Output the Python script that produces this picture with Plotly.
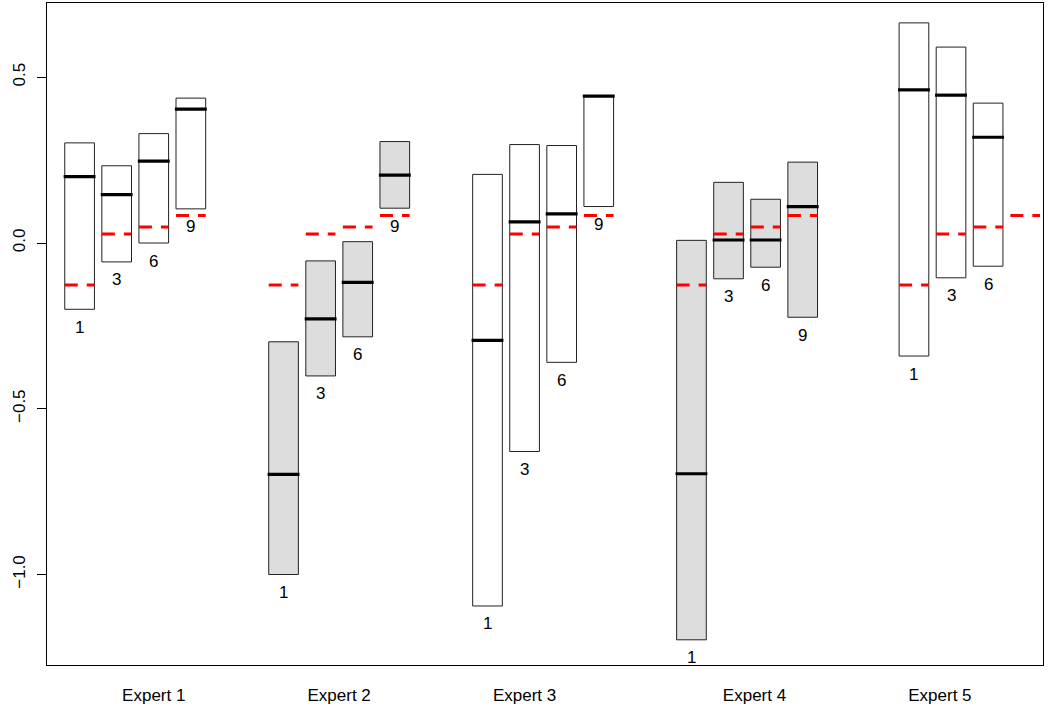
import plotly.graph_objects as go

# ---------------- data ----------------
experts = ["Expert 1", "Expert 2", "Expert 3", "Expert 4", "Expert 5"]
expert_label_pos = [3.0, 8.0, 13.0, 19.2, 24.2]
group_start = [1.0, 6.5, 12.0, 17.5, 23.5]
horizons = ["1", "3", "6", "9"]
horizon_offset = [0, 1, 2, 3]
shaded = [False, True, False, True, False]

box_low = [
    [-0.200, -0.057, 0.000, 0.103],
    [-1.000, -0.401, -0.283, 0.105],
    [-1.095, -0.629, -0.360, 0.110],
    [-1.197, -0.108, -0.073, -0.224],
    [-0.341, -0.105, -0.070, None],
]
box_high = [
    [0.302, 0.233, 0.330, 0.437],
    [-0.298, -0.054, 0.004, 0.306],
    [0.207, 0.297, 0.294, 0.443],
    [0.008, 0.183, 0.132, 0.244],
    [0.664, 0.591, 0.422, None],
]
box_median = [
    [0.200, 0.146, 0.247, 0.404],
    [-0.698, -0.229, -0.119, 0.205],
    [-0.294, 0.064, 0.088, 0.443],
    [-0.696, 0.009, 0.009, 0.110],
    [0.462, 0.446, 0.319, None],
]
actual = [-0.127, 0.027, 0.048, 0.083]   # red dashed reference per horizon

y_ticks = [-1.0, -0.5, 0.0, 0.5]

# ---------------- style ----------------
BOX_W = 0.8
FONT = "Liberation Sans, Arial, Helvetica, sans-serif"
GREY = "#DDDDDD"

fig = go.Figure()

# boxes as floating bars
bx, by, bbase, bcol = [], [], [], []
for g in range(len(experts)):
    for h in range(len(horizons)):
        lo, hi = box_low[g][h], box_high[g][h]
        if lo is None:
            continue
        bx.append(group_start[g] + horizon_offset[h])
        by.append(hi - lo)
        bbase.append(lo)
        bcol.append(GREY if shaded[g] else "white")

fig.add_trace(go.Bar(
    x=bx, y=by, base=bbase, width=BOX_W,
    marker=dict(color=bcol, line=dict(color="#222222", width=1)),
    showlegend=False, hoverinfo="skip",
))

# median lines
mx, my = [], []
for g in range(len(experts)):
    for h in range(len(horizons)):
        m = box_median[g][h]
        if m is None:
            continue
        c = group_start[g] + horizon_offset[h]
        mx += [c - BOX_W / 2 - 0.03, c + BOX_W / 2 + 0.03, None]
        my += [m, m, None]
fig.add_trace(go.Scatter(x=mx, y=my, mode="lines",
                         line=dict(color="black", width=3.2),
                         showlegend=False, hoverinfo="skip"))

# red dashed actual values (drawn for every expert/horizon slot)
for g in range(len(experts)):
    for h in range(len(horizons)):
        c = group_start[g] + horizon_offset[h]
        fig.add_trace(go.Scatter(
            x=[c - BOX_W / 2, c + BOX_W / 2], y=[actual[h], actual[h]],
            mode="lines", line=dict(color="#FF0000", width=3, dash="13px,9px"),
            showlegend=False, hoverinfo="skip"))

# horizon labels under each box
for g in range(len(experts)):
    for h in range(len(horizons)):
        lo = box_low[g][h]
        if lo is None:
            continue
        fig.add_annotation(x=group_start[g] + horizon_offset[h], y=lo,
                           text=horizons[h], showarrow=False,
                           xanchor="center", yanchor="middle", yshift=-18,
                           font=dict(family=FONT, size=17, color="black"))

fig.update_layout(
    width=1050, height=718,
    margin=dict(l=47, r=7, t=3, b=53),
    paper_bgcolor="white", plot_bgcolor="white",
    font=dict(family=FONT, size=17, color="black"),
    barmode="overlay",
    showlegend=False,
)
fig.update_xaxes(
    range=[0.121, 26.98], showgrid=False, zeroline=False, automargin=False,
    showline=True, mirror=True, linecolor="black", linewidth=1,
    tickvals=expert_label_pos, ticktext=experts, ticks="",
    ticklabelstandoff=15,
    tickfont=dict(family=FONT, size=17, color="black"),
)
fig.update_yaxes(
    range=[-1.273, 0.724], showgrid=False, zeroline=False, automargin=False,
    showline=True, mirror=True, linecolor="black", linewidth=1,
    tickvals=y_ticks, tickformat=".1f", ticks="outside", ticklen=9,
    tickcolor="black", tickangle=-90, ticklabelstandoff=5,
    tickfont=dict(family=FONT, size=17, color="black"),
)

fig.write_html("out.html",
               config={"displayModeBar": False},
               post_script="document.body.style.margin='0';document.body.style.overflow='hidden';")
